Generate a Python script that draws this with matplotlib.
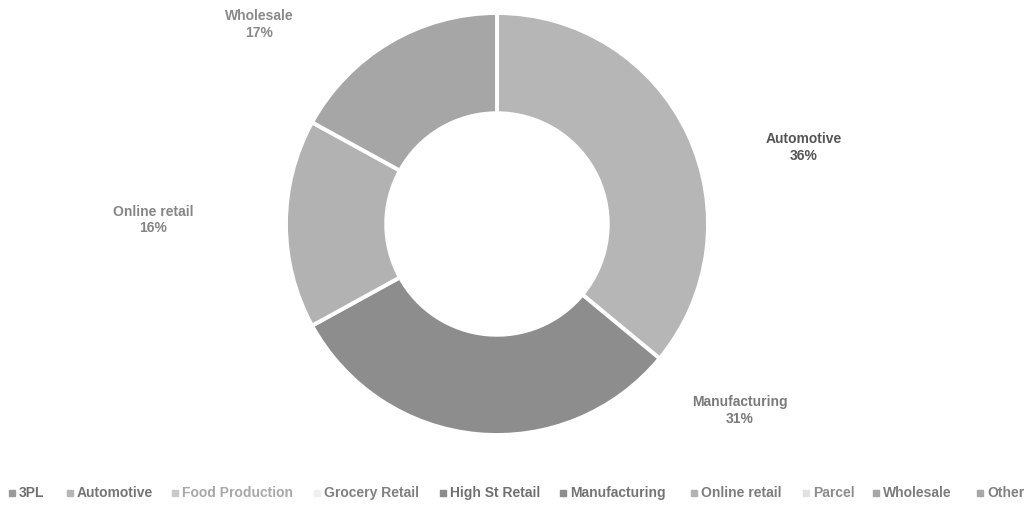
import matplotlib
matplotlib.use("Agg")
import matplotlib.pyplot as plt

# Sector shares of the donut (percent); categories without a share are legend-only
categories = ["3PL", "Automotive", "Food Production", "Grocery Retail", "High St Retail",
              "Manufacturing", "Online retail", "Parcel", "Wholesale", "Other"]
shares = [0, 36, 0, 0, 0, 31, 16, 0, 17, 0]

# Greyscale palette per category (wedge / legend marker) and legend text shades
colors = ["#9a9a9a", "#b6b6b6", "#c9c9c9", "#efefef", "#8c8c8c",
          "#8d8d8d", "#b2b2b2", "#e2e2e2", "#a6a6a6", "#a8a8a8"]
legend_text_colors = ["#707070", "#747474", "#a8a8a8", "#808080", "#707070",
                      "#747474", "#7c7c7c", "#8c8c8c", "#7c7c7c", "#808080"]

# Legend entry anchors (pixels from the left edge)
legend_x = [12, 70, 175, 317, 443, 563, 694, 806, 876, 980]

# Where each slice label sits (data units of the donut axes)
label_pos = {
    "Automotive": (1.455, 0.362),
    "Manufacturing": (1.150, -0.883),
    "Online retail": (-1.629, 0.019),
    "Wholesale": (-1.127, 0.944),
}
label_colors = {
    "Automotive": "#555555",
    "Manufacturing": "#7a7a7a",
    "Online retail": "#858585",
    "Wholesale": "#8a8a8a",
}

plt.rcParams["font.family"] = ["Liberation Sans", "DejaVu Sans"]

W, H = 1030, 507
fig = plt.figure(figsize=(W / 100, H / 100), dpi=100)
fig.patch.set_facecolor("white")

cx, cy, R = 497, 224, 211
ax = fig.add_axes([(cx - R) / W, (H - cy - R) / H, 2 * R / W, 2 * R / H])

present = [(c, s, col) for c, s, col in zip(categories, shares, colors) if s > 0]
names = [p[0] for p in present]
vals = [p[1] for p in present]
cols = [p[2] for p in present]

ax.pie(vals, colors=cols, startangle=90, counterclock=False, radius=1.0,
       wedgeprops=dict(width=0.475, edgecolor="white", linewidth=2.8))
ax.set_xlim(-1, 1)
ax.set_ylim(-1, 1)
ax.set_aspect("equal")
ax.axis("off")

for name, val in zip(names, vals):
    x, y = label_pos[name]
    ax.text(x, y, f"{name}\n{val}%", ha="center", va="center", fontsize=10,
            fontweight="bold", color=label_colors[name], linespacing=1.25,
            clip_on=False)

# Legend row along the bottom, drawn in pixel coordinates
lax = fig.add_axes([0, 0, 1, 1], zorder=-1)
lax.set_xlim(0, W)
lax.set_ylim(H, 0)
lax.axis("off")
ly = 493
for x, name, c, tc in zip(legend_x, categories, colors, legend_text_colors):
    lax.plot([x], [ly], marker="s", markersize=4.5, color=c, linestyle="none")
    lax.text(x + 7, ly, name, ha="left", va="center", fontsize=10,
             fontweight="bold", color=tc)

fig.savefig("out.png", dpi=100, facecolor="white")
